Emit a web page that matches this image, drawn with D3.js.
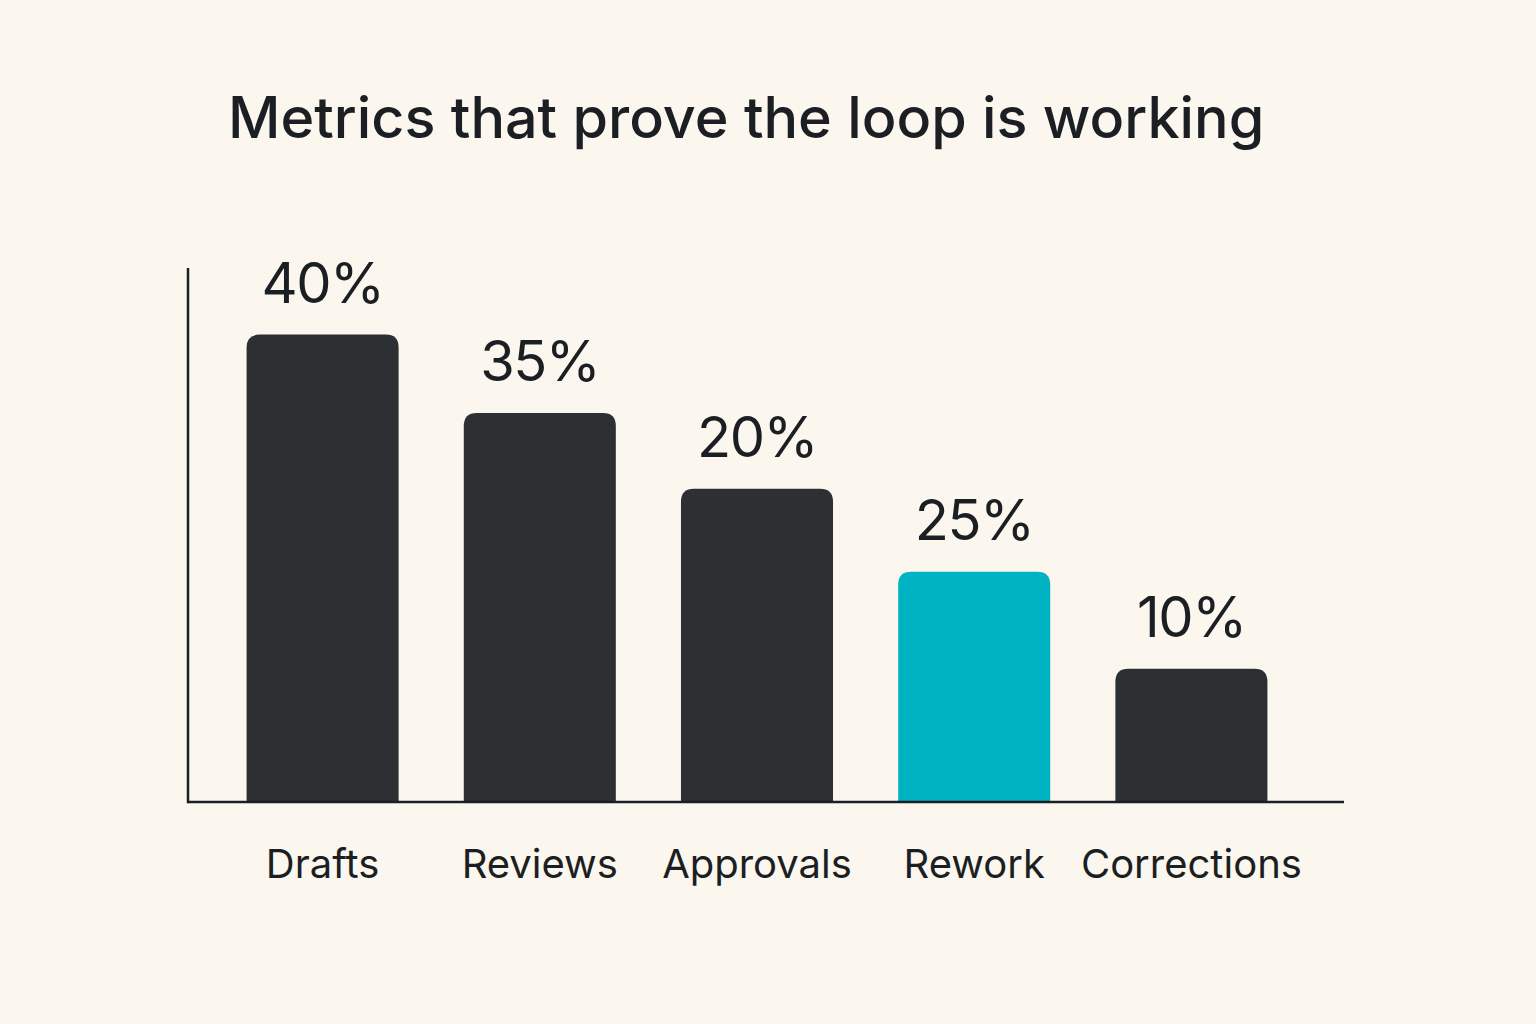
<!DOCTYPE html>
<html>
<head>
<meta charset="utf-8">
<script src="https://cdn.jsdelivr.net/npm/d3@7"></script>
<style>
  html, body { margin: 0; padding: 0; background: #fbf7ee; }
  svg { display: block; }
</style>
</head>
<body>
<div id="chart"></div>
<script>
// chart data
var categories = ["Drafts", "Reviews", "Approvals", "Rework", "Corrections"];
// printed labels above bars
var valueLabels = ["40%", "35%", "20%", "25%", "10%"];
// bar heights as drawn in the picture (they don't follow the labels exactly)
var barValues = [40, 33.3, 26.8, 19.7, 11.4];
var highlight = "Rework";

var width = 1536, height = 1024;
var margin = {top: 268, right: 192, bottom: 222, left: 188};

var svg = d3.select("#chart")
  .append("svg")
    .attr("width", width)
    .attr("height", height);

svg.append("rect")
    .attr("width", width)
    .attr("height", height)
    .attr("fill", "#fbf7ee");

// title
svg.append("text")
    .attr("x", 228)
    .attr("y", 138)
    .attr("font-family", "Inter, 'Noto Sans', sans-serif")
    .attr("font-size", 57.5)
    .attr("font-weight", 500)
    .attr("fill", "#1b1f23")
    .text("Metrics that prove the loop is working");

var x = d3.scaleBand()
    .domain(categories)
    .range([214, 1300])
    .paddingInner(0.3)
    .paddingOuter(0.15);

var y = d3.scaleLinear()
    .domain([0, 45.7])
    .range([height - margin.bottom, margin.top]);

var data = categories.map(function(c, i) {
  return {name: c, value: barValues[i], label: valueLabels[i]};
});

// rounded top corners only
function barPath(d) {
  var x0 = x(d.name), w = x.bandwidth(), y0 = y(d.value), y1 = y(0), r = 13;
  return "M" + x0 + "," + y1 +
    "V" + (y0 + r) +
    "Q" + x0 + "," + y0 + " " + (x0 + r) + "," + y0 +
    "H" + (x0 + w - r) +
    "Q" + (x0 + w) + "," + y0 + " " + (x0 + w) + "," + (y0 + r) +
    "V" + y1 + "Z";
}

svg.append("g")
  .selectAll("path")
  .data(data)
  .enter().append("path")
    .attr("d", barPath)
    .attr("fill", function(d) { return d.name === highlight ? "#00b3c2" : "#2c3033"; });

// value labels
svg.append("g")
  .selectAll("text")
  .data(data)
  .enter().append("text")
    .attr("x", function(d) { return x(d.name) + x.bandwidth() / 2; })
    .attr("y", function(d) { return y(d.value) - 32; })
    .attr("text-anchor", "middle")
    .attr("font-family", "Inter, 'Noto Sans', sans-serif")
    .attr("font-size", 56)
    .attr("font-weight", 400)
    .attr("letter-spacing", -1.5)
    .attr("fill", "#1b1f23")
    .text(function(d) { return d.label; });

// axes
var xAxis = svg.append("g")
    .attr("transform", "translate(0," + y(0) + ")")
    .call(d3.axisBottom(x).tickSize(0).tickPadding(48));
xAxis.select(".domain").remove();
xAxis.append("line")
    .attr("x1", 188).attr("x2", 1344)
    .attr("stroke", "#1b1f23").attr("stroke-width", 2.5);
xAxis.selectAll(".tick text")
    .attr("font-family", "Inter, 'Noto Sans', sans-serif")
    .attr("font-size", 40)
    .attr("fill", "#1b1f23");

svg.append("line")
    .attr("x1", 188).attr("x2", 188)
    .attr("y1", margin.top).attr("y2", y(0) + 1.25)
    .attr("stroke", "#1b1f23").attr("stroke-width", 2.5);
</script>
</body>
</html>
